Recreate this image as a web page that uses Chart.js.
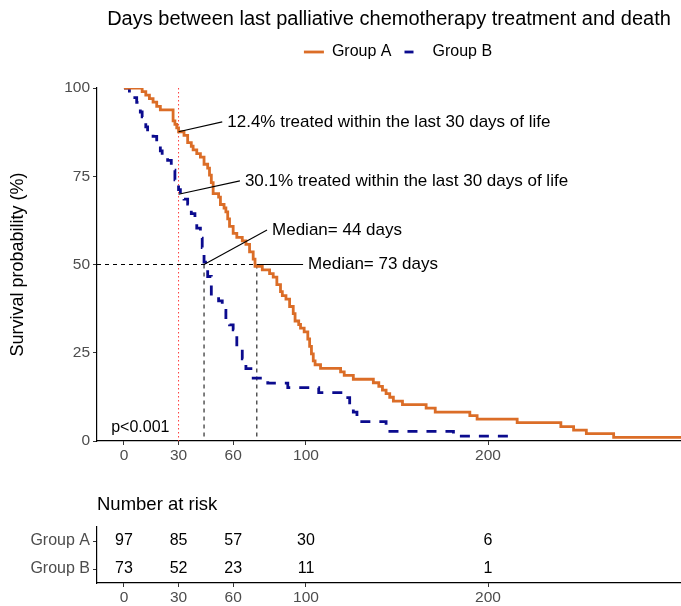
<!DOCTYPE html>
<html>
<head>
<meta charset="utf-8">
<script src="https://cdn.jsdelivr.net/npm/chart.js@4.4.0/dist/chart.umd.min.js"></script>
<style>
  html, body { margin: 0; padding: 0; background: #fff; }
  .box { position: relative; width: 681px; }
</style>
</head>
<body>
<div class="box" style="height:480px"><canvas id="survChart"></canvas></div>
<div class="box" style="height:126px"><canvas id="riskChart"></canvas></div>
<script>
// Kaplan-Meier steps (days, survival %)
const groupADays = [0, 10, 12, 14, 16, 18, 20, 27, 28, 29, 30, 33, 35, 37, 38, 40, 42, 44, 46, 47, 48, 49,
  52, 53, 55, 56, 57, 58, 60, 62, 65, 67, 69, 71, 72, 76, 80, 82, 84, 86, 87, 89, 91, 93, 94, 96, 97, 99,
  101, 102, 103, 104, 105, 108, 119, 121, 126, 137, 140, 142, 144, 146, 148, 153, 166, 171,
  190, 194, 216, 240, 247, 254, 269, 306];
const groupASurv = [100, 99, 98, 97, 96, 94.8, 93.8, 90.7, 89.7, 88.7, 87.6, 86.6, 84.5, 83.5, 82.5, 81.4, 80.4, 78.4, 77.3, 75.3, 73.2, 70.1,
  69.1, 67.0, 66.0, 64.9, 62.9, 60.8, 58.8, 57.7, 56.7, 55.7, 53.6, 51.5, 49.5, 48.5, 47.4, 46.4, 44.3, 42.3, 41.2, 40.2, 38.1, 36.1, 34.0, 33.0, 32.0, 30.9,
  28.9, 26.8, 24.7, 22.7, 21.6, 20.6, 19.6, 18.6, 17.5, 16.5, 15.5, 14.4, 13.4, 12.4, 11.3, 10.3, 9.3, 8.2,
  7.2, 6.2, 5.2, 4.1, 3.1, 2.1, 1.0, 1.0];

const groupBDays = [0, 3, 5, 7, 9, 10, 12, 13, 16, 18, 20, 21, 24, 26, 28, 29, 30, 31, 33, 35,
  37, 39, 40, 42, 43, 44, 46, 48, 52, 54, 56, 58, 60, 62, 65, 67, 71, 79, 90, 107,
  122, 124, 126, 128, 129, 144, 181, 214];
const groupBSurv = [100, 98.6, 97.3, 95.9, 93.2, 91.8, 89.0, 87.7, 86.3, 84.9, 82.2, 80.8, 79.5, 76.7, 74.0, 72.6, 71.2, 69.9, 68.5, 67.1,
  64.4, 61.6, 60.3, 57.5, 54.8, 50.7, 46.6, 41.1, 39.7, 37.0, 34.2, 32.9, 31.5, 26.0, 23.3, 20.5, 17.8, 16.4, 15.1, 13.7,
  12.3, 9.6, 8.2, 6.8, 5.5, 2.7, 1.4, 1.4];

const xTicks = [0, 30, 60, 100, 200];
const yTicks = [0, 25, 50, 75, 100];

// number at risk table
const riskGroups = ['Group A', 'Group B'];
const riskDays = [0, 30, 60, 100, 200];
const riskA = [97, 85, 57, 30, 6];
const riskB = [73, 52, 23, 11, 1];

const cutoffDay = 30;
const medianDays = [44, 73];

const orange = '#DB6D27';
const navy = '#0B0B8E';
const FONT = '"Liberation Sans", Arial, sans-serif';
Chart.defaults.font.family = FONT;
Chart.defaults.color = '#000';

// callouts: anchor on the curve and where the label goes (days, %)
const callouts = [
  { text: '12.4% treated within the last 30 days of life', from: [30, 87.6], to: [54, 90.4] },
  { text: '30.1% treated within the last 30 days of life', from: [30, 69.9], to: [63.7, 73.7] },
  { text: 'Median= 44 days', from: [44, 50], to: [78.6, 59.8] },
  { text: 'Median= 73 days', from: [73, 50], to: [98.4, 50] }
];

function toPoints(days, surv) {
  return days.map((d, i) => ({ x: d, y: surv[i] }));
}

function xAxis(height) {
  return {
    type: 'linear', min: -14.8, max: 306,
    afterBuildTicks: s => { s.ticks = xTicks.map(v => ({ value: v })); },
    afterFit: s => { s.height = height; },
    grid: { drawOnChartArea: false, tickLength: 4, color: '#333' },
    border: { color: '#000', width: 1.2 },
    ticks: { color: '#4d4d4d', font: { size: 15.5 }, padding: 1.5, maxRotation: 0, autoSkip: false }
  };
}

// extra room under the legend and a small nudge right, like the ggplot layout
const legendSpace = {
  id: 'legendSpace',
  afterInit(chart) {
    const fit = chart.legend.fit;
    chart.legend.fit = function() {
      fit.bind(chart.legend)();
      this.height += 18;
    };
  },
  afterLayout(chart) {
    chart.legend.left += 9;
    chart.legend.right += 9;
  }
};

const kmAnnotations = {
  id: 'kmAnnotations',
  beforeDatasetsDraw(chart) {
    const { ctx, chartArea, scales: { x, y } } = chart;
    ctx.save();
    ctx.lineWidth = 1;
    ctx.strokeStyle = '#FF3B3B';
    ctx.setLineDash([1.5, 2.5]);
    const cx = x.getPixelForValue(cutoffDay);
    ctx.beginPath();
    ctx.moveTo(cx, y.getPixelForValue(100));
    ctx.lineTo(cx, y.getPixelForValue(0));
    ctx.stroke();

    ctx.strokeStyle = '#000';
    ctx.setLineDash([4, 4]);
    const y50 = y.getPixelForValue(50);
    ctx.beginPath();
    ctx.moveTo(chartArea.left, y50);
    ctx.lineTo(x.getPixelForValue(Math.max(...medianDays)), y50);
    medianDays.forEach(d => {
      const px = x.getPixelForValue(d);
      ctx.moveTo(px, y50);
      ctx.lineTo(px, y.getPixelForValue(0));
    });
    ctx.stroke();
    ctx.restore();
  },
  afterDatasetsDraw(chart) {
    const { ctx, scales: { x, y } } = chart;
    ctx.save();
    ctx.strokeStyle = '#000';
    ctx.lineWidth = 1.1;
    ctx.fillStyle = '#000';
    ctx.font = '17px ' + FONT;
    ctx.textBaseline = 'middle';
    callouts.forEach(c => {
      const x1 = x.getPixelForValue(c.from[0]), y1 = y.getPixelForValue(c.from[1]);
      const x2 = x.getPixelForValue(c.to[0]), y2 = y.getPixelForValue(c.to[1]);
      ctx.beginPath();
      ctx.moveTo(x1, y1);
      ctx.lineTo(x2, y2);
      ctx.stroke();
      ctx.fillText(c.text, x2 + 5, y2);
    });
    ctx.font = '16px ' + FONT;
    ctx.fillText('p<0.001', x.getPixelForValue(-7), y.getPixelForValue(3.7));
    ctx.restore();
  }
};

const survChart = new Chart(document.getElementById('survChart'), {
  type: 'line',
  data: {
    datasets: [
      { label: 'Group A', data: toPoints(groupADays, groupASurv), borderColor: orange, backgroundColor: orange,
        borderWidth: 2.8, stepped: true, pointRadius: 0, fill: false },
      { label: 'Group B', data: toPoints(groupBDays, groupBSurv), borderColor: navy, backgroundColor: navy,
        borderWidth: 2.8, borderDash: [10, 9], stepped: true, pointRadius: 0, fill: false }
    ]
  },
  options: {
    responsive: true,
    maintainAspectRatio: false,
    animation: false,
    layout: { padding: 0 },
    scales: {
      x: xAxis(39),
      y: {
        type: 'linear', min: 0, max: 100,
        afterBuildTicks: s => { s.ticks = yTicks.map(v => ({ value: v })); },
        afterFit: s => { s.width = 97; },
        title: { display: true, text: 'Survival probability (%)', color: '#000', font: { size: 18 }, padding: { top: 7, bottom: 0 } },
        grid: { drawOnChartArea: false, tickLength: 4, color: '#333' },
        border: { color: '#000', width: 1.2 },
        ticks: { color: '#4d4d4d', font: { size: 15.5 }, padding: 3 }
      }
    },
    plugins: {
      title: {
        display: true,
        text: 'Days between last palliative chemotherapy treatment and death',
        fullSize: false,
        color: '#000',
        font: { size: 20, weight: 'normal' },
        padding: { top: 7, bottom: 0 }
      },
      legend: {
        display: true,
        fullSize: false,
        labels: {
          usePointStyle: true,
          pointStyle: 'line',
          pointStyleWidth: 20,
          color: '#000',
          font: { size: 16 },
          padding: 13,
          generateLabels: chart => {
            const items = Chart.defaults.plugins.legend.labels.generateLabels(chart);
            items.forEach(it => {
              it.pointStyle = 'line';
              if (it.datasetIndex === 1) it.lineDash = [9, 40];
            });
            return items;
          }
        }
      },
      tooltip: { enabled: false }
    }
  },
  plugins: [legendSpace, kmAnnotations]
});

const riskLabels = {
  id: 'riskLabels',
  afterDatasetsDraw(chart) {
    const ctx = chart.ctx;
    ctx.save();
    ctx.font = '16px ' + FONT;
    ctx.fillStyle = '#000';
    ctx.textAlign = 'center';
    ctx.textBaseline = 'middle';
    [riskA, riskB].forEach((counts, di) => {
      chart.getDatasetMeta(di).data.forEach((pt, i) => {
        ctx.fillText(String(counts[i]), pt.x, pt.y);
      });
    });
    ctx.restore();
  }
};

const riskChart = new Chart(document.getElementById('riskChart'), {
  type: 'scatter',
  data: {
    datasets: [
      { label: riskGroups[0], data: riskDays.map(d => ({ x: d, y: riskGroups[0] })), pointRadius: 0 },
      { label: riskGroups[1], data: riskDays.map(d => ({ x: d, y: riskGroups[1] })), pointRadius: 0 }
    ]
  },
  options: {
    responsive: true,
    maintainAspectRatio: false,
    animation: false,
    layout: { padding: 0 },
    scales: {
      x: xAxis(23),
      y: {
        type: 'category',
        labels: riskGroups,
        offset: true,
        afterFit: s => { s.width = 97; },
        grid: { drawOnChartArea: false, tickLength: 4, color: '#333', offset: false },
        border: { color: '#000', width: 1.2 },
        ticks: { color: '#4d4d4d', font: { size: 16 }, padding: 3 }
      }
    },
    plugins: {
      title: {
        display: true,
        text: 'Number at risk',
        fullSize: false,
        align: 'start',
        color: '#000',
        font: { size: 18.5, weight: 'normal' },
        padding: { top: 13.9, bottom: 10.9 }
      },
      legend: { display: false },
      tooltip: { enabled: false }
    }
  },
  plugins: [riskLabels]
});
</script>
</body>
</html>
